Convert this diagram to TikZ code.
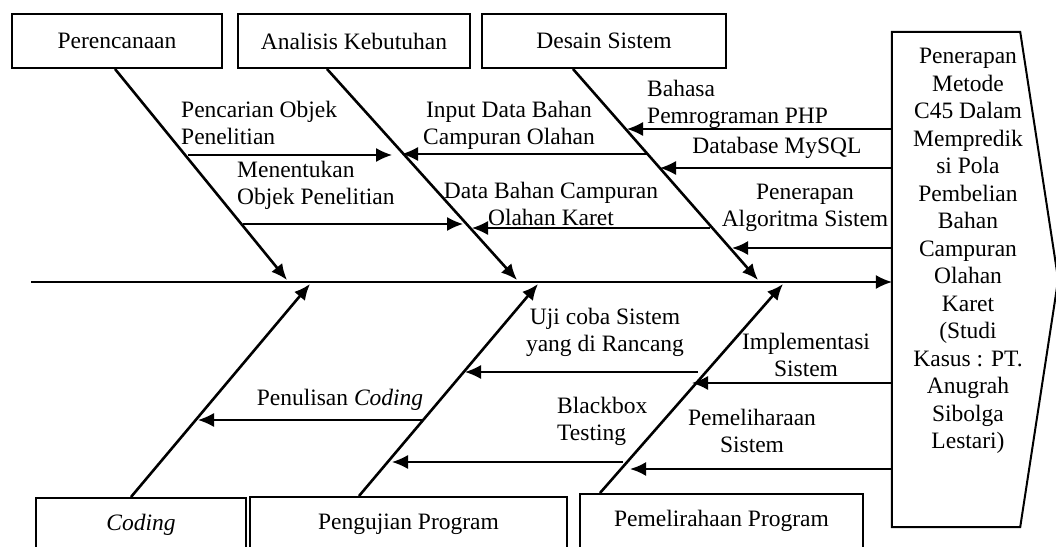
\documentclass[tikz,border=0pt]{standalone}
\usepackage{fontspec}
\setmainfont{Liberation Serif}
\usetikzlibrary{arrows.meta,calc}

\begin{document}
\begin{tikzpicture}[x=1bp,y=-1bp,
  every node/.style={font=\fontsize{23.5bp}{27bp}\selectfont},
  box/.style={draw,line width=2bp,minimum height=54bp,inner sep=0pt},
  bone/.style={line width=2.6bp,-{Latex[length=16bp,width=14bp]}},
  sub/.style={line width=1.4bp,-{Latex[length=16bp,width=14bp]}},
  lbl/.style={inner sep=0pt,align=center}]
  \useasboundingbox (0,0) rectangle (1056,547);
  \clip (0,0) rectangle (1056,547);

  % boxes
  \node[box,minimum width=210bp] (plan)   at (117,41)  {Perencanaan};
  \node[box,minimum width=232bp] (anal)   at (354,41)  {Analisis Kebutuhan};
  \node[box,minimum width=244bp] (desain) at (604,41)  {Desain Sistem};
  \node[box,minimum width=210bp] (coding) at (141,525) {\textit{Coding}};
  \node[box,minimum width=317bp] (uji)    at (408.5,524) {Pengujian Program};
  \node[box,minimum width=283bp] (pelihara) at (721.5,521) {Pemelirahaan Program};

  % head
  \node[inner sep=0pt,minimum width=128bp,minimum height=495bp] (head) at (956,279.5) {};
  \draw[line width=2bp] (head.north west) -- (head.north east)
    -- ($(head.east)+(38,0)$) -- (head.south east) -- (head.south west) -- cycle;
  \node[lbl,font=\fontsize{23.5bp}{27.5bp}\selectfont] (headtxt) at (968,251)
    {Penerapan\\Metode\\C45 Dalam\\Mempredik\\si Pola\\Pembelian\\Bahan\\Campuran\\Olahan\\Karet\\(Studi\\Kasus : PT.\\Anugrah\\Sibolga\\Lestari)};

  % spine
  \coordinate (tail) at (31,282);
  \draw[sub] (tail) -- (tail -| head.west);

  % bones
  \coordinate (t1) at (287,280); \coordinate (t2) at (517,280); \coordinate (t3) at (758,280);
  \coordinate (u1) at (310,284); \coordinate (u2) at (538,284); \coordinate (u3) at (783,284);
  \draw[bone] ($(plan.south)+(-2,0)$) -- (t1);
  \draw[bone] ($(anal.south)+(-27,0)$) -- (t2);
  \draw[bone] ($(desain.south)+(-31,0)$) -- (t3);
  \draw[bone] ($(coding.north)+(-10,0)$) -- (u1);
  \draw[bone] ($(uji.north)+(-49.5,0)$) -- (u2);
  \draw[bone] ($(pelihara.north)+(-121.5,0)$) -- (u3);

  % sub arrows
  \foreach \n/\xa/\xb/\y in {a1/188/392/155, a2/243/463/224, a3/648/402/154, a4/710/472/228,
                             a8/423/198/420, a9/698/465/372, a10/623/392/462}
    { \coordinate (\n s) at (\xa,\y); \coordinate (\n e) at (\xb,\y);
      \draw[sub] (\n s) -- (\n e); }
  \foreach \n/\xb/\y/\w in {a5/627/129/1.4, a6/660/168/1.4, a7/732/248/2.2,
                            a11/692/383/1.6, a12/630/469/2.2}
    { \coordinate (\n) at (\xb,\y);
      \draw[sub,line width=\w bp] (\n -| head.west) -- (\n); }

  % labels
  \node[lbl,align=left,anchor=west] (l1) at (181,122.5) {Pencarian Objek\\Penelitian};
  \node[lbl,align=left,anchor=west] (l2) at (237,185) {Menentukan\\Objek Penelitian};
  \node[lbl] (l3) at (509,125) {Input Data Bahan\\Campuran Olahan};
  \node[lbl] (l4) at (551,204) {Data Bahan Campuran\\Olahan Karet};
  \node[lbl,align=left,anchor=west] (l5) at (647,104) {Bahasa\\Pemrograman PHP};
  \node[lbl] (l6) at (777,148) {Database MySQL};
  \node[lbl] (l7) at (805,208) {Penerapan\\Algoritma Sistem};
  \node[lbl] (l8) at (340,400) {Penulisan \textit{Coding}};
  \node[lbl] (l9) at (605,332) {Uji coba Sistem\\yang di Rancang};
  \node[lbl,align=left,anchor=west] (l10) at (557,421) {Blackbox\\Testing};
  \node[lbl] (l11) at (806,355) {Implementasi\\Sistem};
  \node[lbl] (l12) at (752,431) {Pemeliharaan\\Sistem};
\end{tikzpicture}
\end{document}
